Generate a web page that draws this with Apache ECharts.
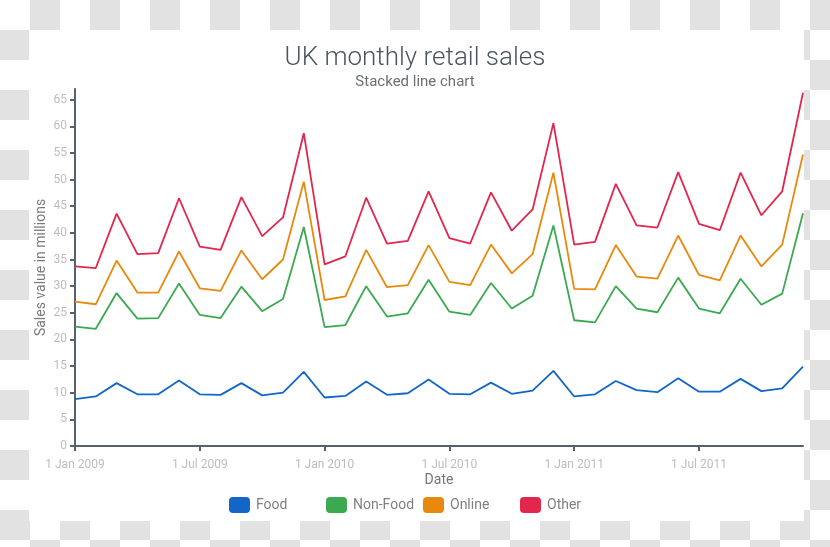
<!DOCTYPE html>
<html>
<head>
<meta charset="utf-8">
<script src="https://cdn.jsdelivr.net/npm/echarts@6/dist/echarts.min.js"></script>
<style>
  html, body { margin: 0; padding: 0; }
  body {
    width: 830px; height: 547px; overflow: hidden; position: relative;
    background-color: #fff;
    background-image: conic-gradient(#e2e2e2 0 25%, #fff 0 50%, #e2e2e2 0 75%, #fff 0);
    background-size: 60px 60px;
  }
  #card { position: absolute; left: 29px; top: 30px; width: 775px; height: 491px; background: #fff; }
  #chart { position: absolute; left: 0; top: 0; width: 830px; height: 547px; }
</style>
</head>
<body>
<div id="card"></div>
<div id="chart"></div>
<script>
const months = [
  'Jan 2009','Feb 2009','Mar 2009','Apr 2009','May 2009','Jun 2009','Jul 2009','Aug 2009','Sep 2009','Oct 2009','Nov 2009','Dec 2009',
  'Jan 2010','Feb 2010','Mar 2010','Apr 2010','May 2010','Jun 2010','Jul 2010','Aug 2010','Sep 2010','Oct 2010','Nov 2010','Dec 2010',
  'Jan 2011','Feb 2011','Mar 2011','Apr 2011','May 2011','Jun 2011','Jul 2011','Aug 2011','Sep 2011','Oct 2011','Nov 2011','Dec 2011'
];
const food = [8.8, 9.3, 11.8, 9.7, 9.7, 12.3, 9.7, 9.6, 11.8, 9.5, 10.0, 13.9,
              9.1, 9.4, 12.1, 9.6, 9.9, 12.5, 9.8, 9.7, 11.9, 9.8, 10.4, 14.1,
              9.3, 9.7, 12.2, 10.5, 10.1, 12.7, 10.2, 10.2, 12.6, 10.3, 10.8, 14.9];
const nonFood = [13.6, 12.7, 16.9, 14.2, 14.3, 18.2, 14.9, 14.4, 18.1, 15.8, 17.6, 27.2,
                 13.2, 13.3, 17.9, 14.7, 15.0, 18.7, 15.4, 14.9, 18.7, 16.0, 17.8, 27.3,
                 14.3, 13.5, 17.8, 15.3, 15.0, 18.9, 15.6, 14.7, 18.8, 16.2, 17.8, 28.8];
const online = [4.7, 4.6, 6.1, 4.9, 4.8, 6.0, 5.0, 5.1, 6.8, 6.0, 7.4, 8.5,
                5.1, 5.4, 6.8, 5.5, 5.3, 6.5, 5.6, 5.6, 7.2, 6.6, 7.8, 9.9,
                5.9, 6.2, 7.7, 6.0, 6.3, 7.9, 6.3, 6.2, 8.1, 7.2, 9.2, 11.0];
const other = [6.6, 6.8, 8.8, 7.2, 7.4, 10.0, 7.8, 7.7, 10.0, 8.1, 7.9, 9.1,
               6.7, 7.5, 9.8, 8.2, 8.3, 10.1, 8.2, 7.8, 9.8, 8.0, 8.4, 9.3,
               8.3, 8.9, 11.5, 9.6, 9.6, 11.9, 9.6, 9.4, 11.8, 9.6, 10.0, 11.6];
const yTicks = [0, 5, 10, 15, 20, 25, 30, 35, 40, 45, 50, 55, 60, 65];
const seriesNames = ['Food', 'Non-Food', 'Online', 'Other'];
const seriesColors = ['#1166c8', '#3aa94f', '#e8890e', '#e2264c'];

const chart = echarts.init(document.getElementById('chart'), null, { renderer: 'canvas' });
const font = 'Roboto, "Noto Sans", sans-serif';
const axisColor = '#56616c';
const seriesData = [food, nonFood, online, other];

chart.setOption({
  backgroundColor: 'transparent',
  textStyle: { fontFamily: font },
  animation: false,
  title: {
    text: 'UK monthly retail sales',
    subtext: 'Stacked line chart',
    left: 'center',
    top: 40,
    itemGap: 4,
    textStyle: { fontSize: 26, fontWeight: 300, color: '#4a5561', fontFamily: font },
    subtextStyle: { fontSize: 15, color: '#6a6f75', fontFamily: font }
  },
  legend: seriesNames.map((n, i) => ({
    left: 224 + i * 97,
    top: 492,
    itemWidth: 21,
    itemHeight: 16,
    icon: 'roundRect',
    data: [n],
    textStyle: { fontSize: 14, color: '#808080', fontFamily: font, padding: [0, 0, 0, 1] }
  })),
  grid: { left: 75, right: 27, top: 89, bottom: 101, outerBoundsMode: 'none', containLabel: false },
  xAxis: {
    type: 'category',
    boundaryGap: false,
    data: months,
    name: 'Date',
    nameLocation: 'middle',
    nameGap: 27,
    nameMoveOverlap: false,
    nameTextStyle: { fontSize: 14, color: '#777' },
    axisLine: { lineStyle: { color: axisColor, width: 2 } },
    axisTick: { interval: 5, length: 5, lineStyle: { color: axisColor, width: 2 } },
    axisLabel: { interval: 5, margin: 13, fontSize: 12, color: '#bdbdbd', formatter: v => '1 ' + v }
  },
  yAxis: {
    type: 'value',
    min: 0,
    max: 67,
    interval: 5,
    name: 'Sales value in millions',
    nameLocation: 'middle',
    nameGap: 27,
    nameMoveOverlap: false,
    nameTextStyle: { fontSize: 14, color: '#7a7a7a' },
    splitLine: { show: false },
    axisLine: { show: true, lineStyle: { color: axisColor, width: 2 } },
    axisTick: { show: true, length: 5, customValues: yTicks, lineStyle: { color: axisColor, width: 2 } },
    axisLabel: { margin: 8, fontSize: 12, color: '#bdbdbd', customValues: yTicks }
  },
  series: seriesNames.map((n, i) => ({
    name: n,
    type: 'line',
    stack: 'total',
    data: seriesData[i],
    showSymbol: false,
    symbol: 'none',
    color: seriesColors[i],
    lineStyle: { width: 1.8, color: seriesColors[i] },
    itemStyle: { color: seriesColors[i] }
  }))
});
</script>
</body>
</html>
